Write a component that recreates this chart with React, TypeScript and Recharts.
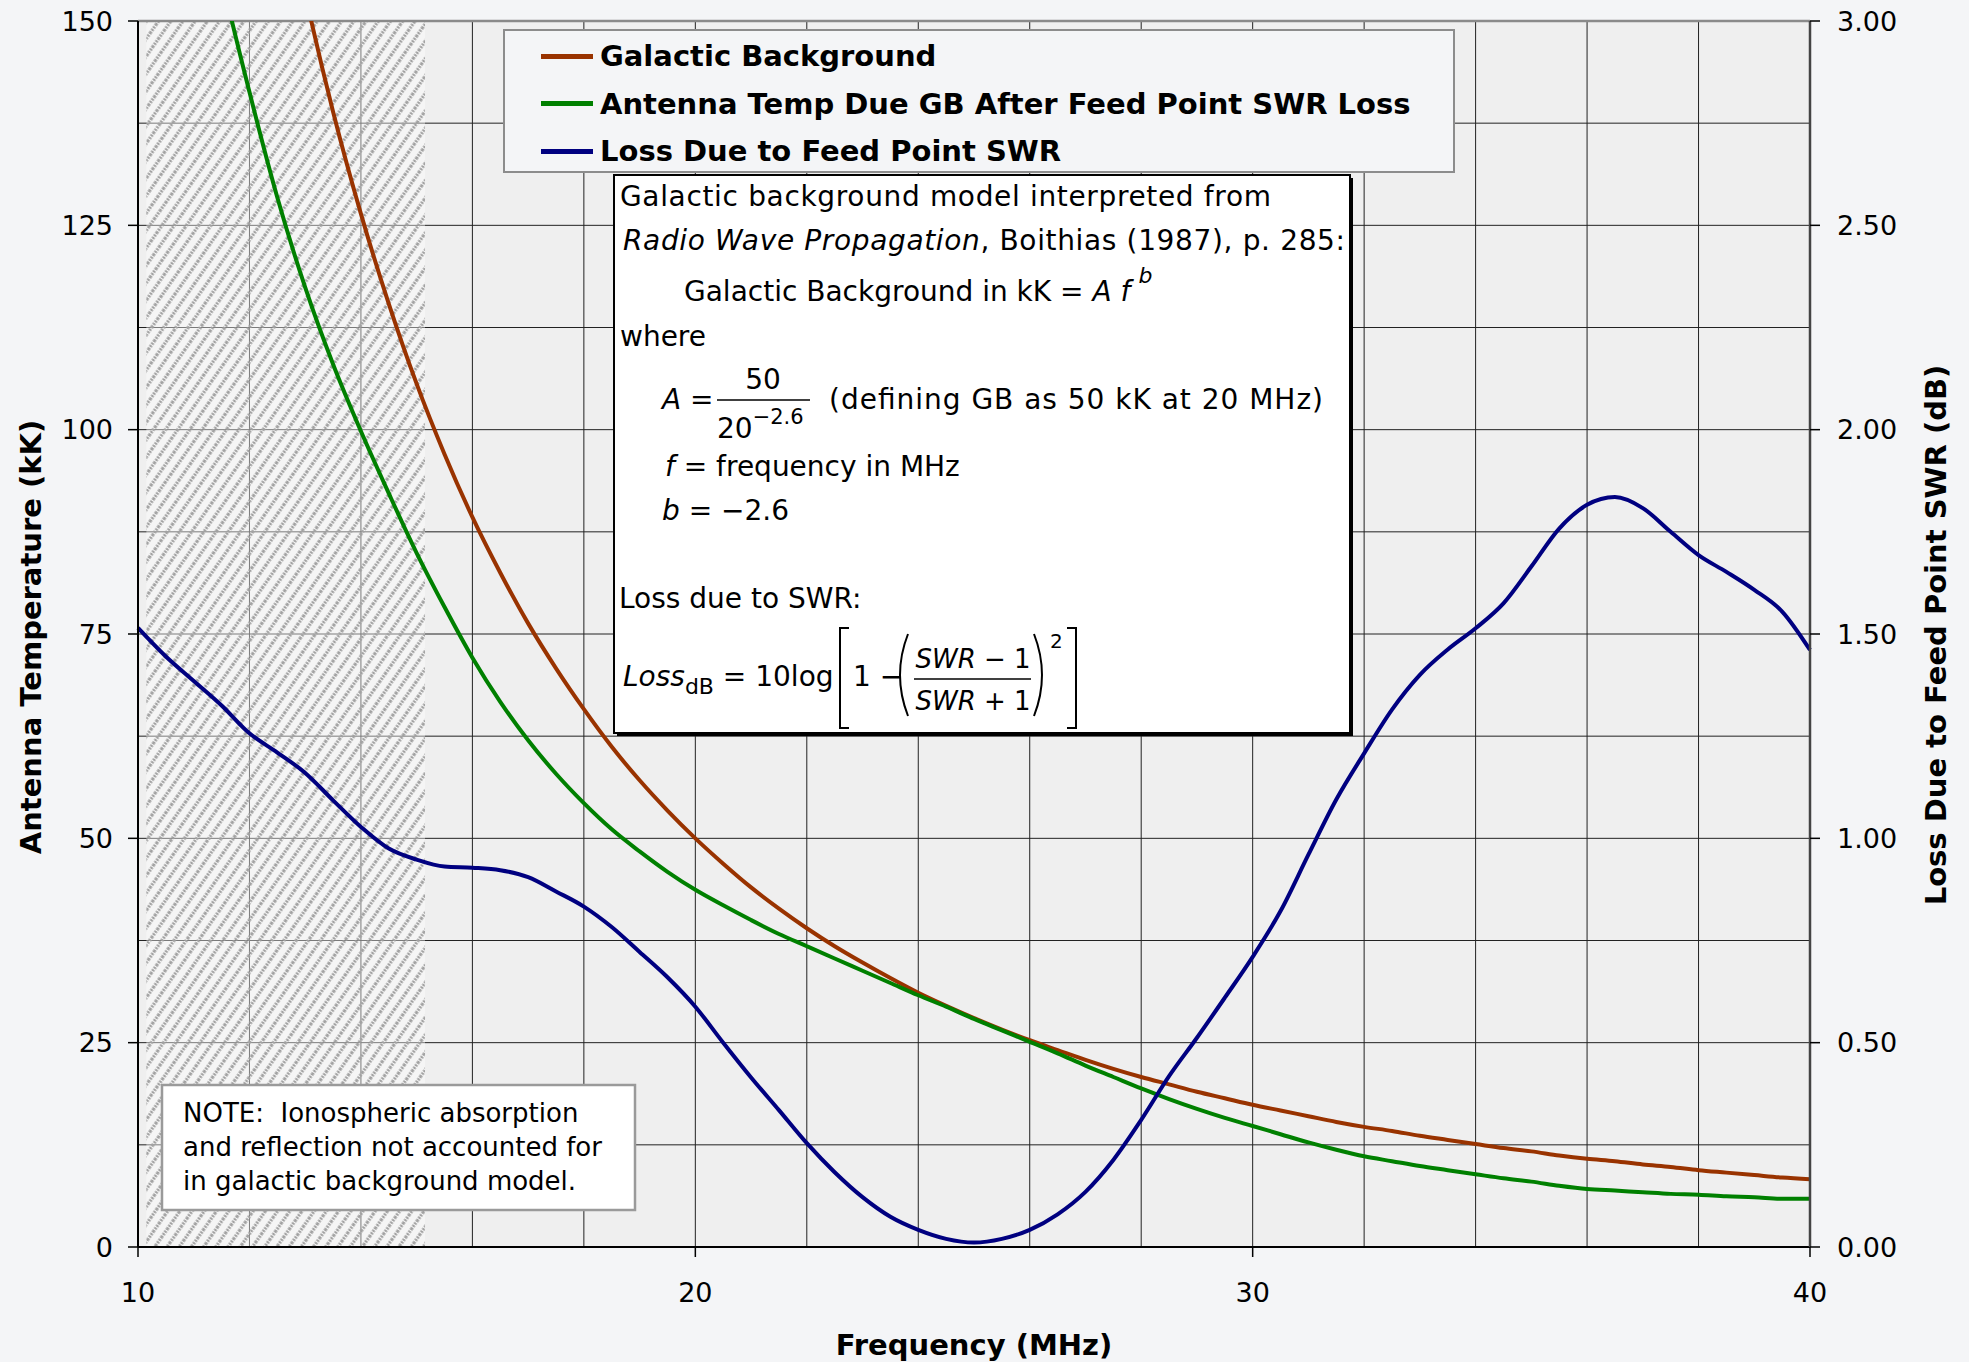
import React from 'react';
import { LineChart, Line, XAxis, YAxis, CartesianGrid, ReferenceArea, ReferenceLine, Legend } from 'recharts';

// frequency steps (MHz)
const FREQ_MHZ = [
  10, 10.5, 11, 11.5, 12, 12.5, 13, 13.5, 14, 14.5,
  15, 15.5, 16, 16.5, 17, 17.5, 18, 18.5, 19, 19.5,
  20, 20.5, 21, 21.5, 22, 22.5, 23, 23.5, 24, 24.5,
  25, 25.5, 26, 26.5, 27, 27.5, 28, 28.5, 29, 29.5,
  30, 30.5, 31, 31.5, 32, 32.5, 33, 33.5, 34, 34.5,
  35, 35.5, 36, 36.5, 37, 37.5, 38, 38.5, 39, 39.5,
  40,
];

// kK, left axis (values above 150 are off the chart)
const GALACTIC_KK = [
  303.1, 267.1, 236.6, 210.8, 188.7, 169.7, 153.3, 138.9, 126.4, 115.4,
  105.6, 97.0, 89.3, 82.5, 76.3, 70.8, 65.8, 61.2, 57.1, 53.4,
  50.0, 46.9, 44.0, 41.4, 39.0, 36.8, 34.8, 32.9, 31.1, 29.5,
  28.0, 26.6, 25.3, 24.1, 22.9, 21.8, 20.8, 19.9, 19.0, 18.2,
  17.4, 16.7, 16.0, 15.3, 14.7, 14.2, 13.6, 13.1, 12.6, 12.1,
  11.7, 11.2, 10.8, 10.5, 10.1, 9.8, 9.4, 9.1, 8.8, 8.5,
  8.3,
];

const ANTENNA_KK = [
  213.9, 191.5, 172.0, 155.4, 141.3, 128.4, 117.4, 108.0, 99.8, 92.2,
  84.9, 78.3, 72.1, 66.7, 62.0, 57.9, 54.3, 51.1, 48.4, 45.9,
  43.7, 41.8, 40.0, 38.3, 36.8, 35.3, 33.8, 32.3, 30.8, 29.4,
  27.9, 26.5, 25.1, 23.7, 22.2, 20.8, 19.4, 18.1, 16.9, 15.8,
  14.8, 13.8, 12.8, 11.9, 11.1, 10.5, 9.9, 9.4, 8.9, 8.4,
  8.0, 7.5, 7.1, 6.9, 6.7, 6.5, 6.4, 6.2, 6.1, 5.9,
  5.9,
];

// dB, right axis
const SWR_LOSS_DB = [
  1.515, 1.445, 1.385, 1.325, 1.257, 1.210, 1.160, 1.093, 1.028, 0.975,
  0.948, 0.931, 0.928, 0.922, 0.905, 0.870, 0.833, 0.783, 0.722, 0.660,
  0.588, 0.500, 0.415, 0.335, 0.254, 0.183, 0.122, 0.074, 0.042, 0.020,
  0.011, 0.020, 0.042, 0.080, 0.135, 0.213, 0.311, 0.418, 0.512, 0.610,
  0.710, 0.822, 0.960, 1.095, 1.208, 1.315, 1.400, 1.462, 1.514, 1.575,
  1.665, 1.758, 1.816, 1.835, 1.808, 1.750, 1.693, 1.652, 1.608, 1.555,
  1.461,
];

const FREQ_TICKS = [10, 20, 30, 40];
const FREQ_GRID = [10, 12, 14, 16, 18, 20, 22, 24, 26, 28, 30, 32, 34, 36, 38, 40];
const TEMP_TICKS = [0, 25, 50, 75, 100, 125, 150];
const TEMP_GRID = [0, 12.5, 25, 37.5, 50, 62.5, 75, 87.5, 100, 112.5, 125, 137.5, 150];
const LOSS_TICKS = [0, 0.5, 1, 1.5, 2, 2.5, 3];
const HATCH_RANGE = [10.15, 15.15];

const SERIES = [
  { key: 'galactic', name: 'Galactic Background', color: '#993300', axis: 'temp' },
  { key: 'antenna', name: 'Antenna Temp Due GB After Feed Point SWR Loss', color: '#008000', axis: 'temp' },
  { key: 'loss', name: 'Loss Due to Feed Point SWR', color: '#000080', axis: 'loss' },
];

const data = FREQ_MHZ.map((f, i) => ({
  f,
  galactic: GALACTIC_KK[i],
  antenna: ANTENNA_KK[i],
  loss: SWR_LOSS_DB[i],
}));

const FONT = '"DejaVu Sans", Verdana, sans-serif';
const tickStyle = { fontSize: 27, fill: '#000', fontFamily: FONT };

const LegendBox = () => (
  <div style={{ width: 952, height: 144, boxSizing: 'border-box', border: '2px solid #8c8c8c', background: '#f4f5f7', position: 'relative' }}>
    {SERIES.map((s, i) => (
      <div key={s.key} style={{ position: 'absolute', left: 36, top: 5 + i * 47.5, height: 40, display: 'flex', alignItems: 'center' }}>
        <span style={{ display: 'inline-block', width: 52, height: 5, background: s.color, marginRight: 7 }} />
        <span style={{ font: `bold 29px ${FONT}`, color: '#000', whiteSpace: 'nowrap' }}>{s.name}</span>
      </div>
    ))}
  </div>
);

const Notes = () => (
  <svg width={1969} height={1362} style={{ position: 'absolute', left: 0, top: 0, pointerEvents: 'none' }} fontFamily={FONT}>
    {/* model box */}
    <rect x={617} y={178} width={736} height={558} fill="#000" />
    <rect x={614} y={175} width={736} height={558} fill="#fff" stroke="#000" strokeWidth={2} />
    <g fontSize={28} fill="#000">
      <text x={620} y={206} textLength={651}>Galactic background model interpreted from</text>
      <text x={623} y={250} textLength={722}>
        <tspan fontStyle="italic">Radio Wave Propagation</tspan>, Boithias (1987), p. 285:
      </text>
      <text x={684} y={301}>
        Galactic Background in kK = <tspan fontStyle="italic">A f</tspan>
        <tspan fontStyle="italic" fontSize={22} dx={8} dy={-18}>b</tspan>
      </text>
      <text x={620} y={346}>where</text>
      <text x={662} y={409}><tspan fontStyle="italic">A</tspan> =</text>
      <text x={763} y={389} textAnchor="middle">50</text>
      <line x1={717} x2={810} y1={400} y2={400} stroke="#000" strokeWidth={1.5} />
      <text x={717} y={438}>20<tspan fontSize={21} dy={-14}>−2.6</tspan></text>
      <text x={829} y={409} textLength={494}>(defining GB as 50 kK at 20 MHz)</text>
      <text x={665} y={476}><tspan fontStyle="italic">f</tspan> = frequency in MHz</text>
      <text x={662} y={520}><tspan fontStyle="italic">b</tspan> = −2.6</text>
      <text x={619} y={608}>Loss due to SWR:</text>
      <text x={623} y={686}>
        <tspan fontStyle="italic">Loss</tspan>
        <tspan fontSize={22} dy={8}>dB</tspan>
        <tspan dy={-8}> = 10log</tspan>
      </text>
      <path d="M849,628 H840 V728 H849" fill="none" stroke="#000" strokeWidth={2} />
      <text x={853} y={686}>1 −</text>
      <path d="M908,634 Q892,675 908,716" fill="none" stroke="#000" strokeWidth={2} />
      <text x={973} y={668} textAnchor="middle" fontSize={26}><tspan fontStyle="italic">SWR</tspan> − 1</text>
      <line x1={914} x2={1031} y1={679} y2={679} stroke="#000" strokeWidth={1.5} />
      <text x={973} y={710} textAnchor="middle" fontSize={26}><tspan fontStyle="italic">SWR</tspan> + 1</text>
      <path d="M1034,634 Q1050,675 1034,716" fill="none" stroke="#000" strokeWidth={2} />
      <text x={1050} y={648} fontSize={20}>2</text>
      <path d="M1067,628 H1076 V728 H1067" fill="none" stroke="#000" strokeWidth={2} />
    </g>

    {/* ionosphere note */}
    <rect x={162} y={1085} width={473} height={125} fill="#fff" stroke="#9a9a9a" strokeWidth={2.5} />
    <g fontSize={26} fill="#000">
      <text x={183} y={1122}>NOTE:{'\u00a0'} Ionospheric absorption</text>
      <text x={183} y={1156}>and reflection not accounted for</text>
      <text x={183} y={1190}>in galactic background model.</text>
    </g>

    {/* axis titles */}
    <g fontSize={29} fontWeight="bold" fill="#000" textAnchor="middle">
      <text transform="translate(41,637) rotate(-90)">Antenna Temperature (kK)</text>
      <text transform="translate(1946,635) rotate(-90)">Loss Due to Feed Point SWR (dB)</text>
      <text x={974} y={1355}>Frequency (MHz)</text>
    </g>
  </svg>
);

export default function App() {
  return (
    <div style={{ position: 'absolute', left: 0, top: 0, width: 1969, height: 1362, overflow: 'hidden', background: '#f4f5f7', fontFamily: FONT }}>
      <LineChart
        width={1969}
        height={1362}
        data={data}
        margin={{ top: 21, right: 59, bottom: 75, left: 58 }}
        style={{ fontFamily: FONT }}
      >
        <defs>
          <pattern id="hatch" patternUnits="userSpaceOnUse" width={10} height={10} patternTransform="rotate(35)">
            <rect width={10} height={10} fill="#ffffff" fillOpacity={0.4} />
            <line x1={2} y1={0} x2={2} y2={10} stroke="#a2a2a2" strokeWidth={3.2} strokeDasharray="2 1" />
          </pattern>
        </defs>
        <CartesianGrid
          yAxisId="temp"
          horizontalValues={TEMP_GRID}
          verticalValues={FREQ_GRID}
          fill="#efefef"
          stroke="#222"
          strokeWidth={1}
        />
        <ReferenceArea
          yAxisId="temp"
          x1={HATCH_RANGE[0]}
          x2={HATCH_RANGE[1]}
          y1={0}
          y2={150}
          fill="url(#hatch)"
          fillOpacity={1}
          stroke="none"
        />
        <ReferenceLine yAxisId="temp" y={150} stroke="#8a8a8a" strokeWidth={2.5} />
        <XAxis
          dataKey="f"
          type="number"
          domain={[10, 40]}
          ticks={FREQ_TICKS}
          height={40}
          tickSize={10}
          tickMargin={26}
          tick={tickStyle}
          axisLine={{ stroke: '#000', strokeWidth: 2 }}
          tickLine={{ stroke: '#000', strokeWidth: 1.5 }}
        />
        <YAxis
          yAxisId="temp"
          type="number"
          domain={[0, 150]}
          ticks={TEMP_TICKS}
          allowDataOverflow
          width={80}
          tickSize={10}
          tickMargin={15}
          tick={tickStyle}
          axisLine={{ stroke: '#000', strokeWidth: 2 }}
          tickLine={{ stroke: '#000', strokeWidth: 1.5 }}
        />
        <YAxis
          yAxisId="loss"
          orientation="right"
          type="number"
          domain={[0, 3]}
          ticks={LOSS_TICKS}
          tickFormatter={(v: number) => v.toFixed(2)}
          width={100}
          tickSize={10}
          tickMargin={17}
          tick={tickStyle}
          axisLine={{ stroke: '#444', strokeWidth: 2.5 }}
          tickLine={{ stroke: '#000', strokeWidth: 1.5 }}
        />
        <Legend
          layout="vertical"
          align="center"
          verticalAlign="middle"
          content={() => <LegendBox />}
          wrapperStyle={{ left: 503, top: 29, width: 952, height: 144 }}
        />
        {SERIES.map((s) => (
          <Line
            key={s.key}
            yAxisId={s.axis}
            type="monotone"
            dataKey={s.key}
            name={s.name}
            stroke={s.color}
            strokeWidth={4}
            dot={false}
            activeDot={false}
            isAnimationActive={false}
          />
        ))}
      </LineChart>
      <Notes />
    </div>
  );
}
